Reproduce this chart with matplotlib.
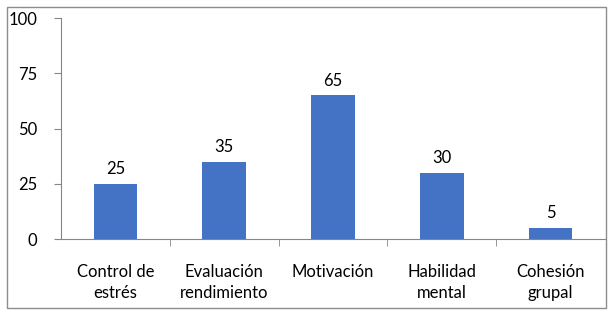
import matplotlib.pyplot as plt
from matplotlib.patches import Rectangle

categories = ["Control de\nestrés", "Evaluación\nrendimiento", "Motivación", "Habilidad\nmental", "Cohesión\ngrupal"]
values = [25, 35, 65, 30, 5]
yticks = [0, 25, 50, 75, 100]

plt.rcParams['font.family'] = ['Lato', 'DejaVu Sans']

fig = plt.figure(figsize=(6.14, 3.18), dpi=100)
fig.patches.append(Rectangle((7 / 614, 10 / 318), 599 / 614, 301 / 318, transform=fig.transFigure,
                             fill=False, edgecolor='#8c8c8c', linewidth=1.0))

ax = fig.add_axes([61 / 614, 1 - 239 / 318, 544 / 614, 221 / 318])
x = list(range(len(categories)))
bars = ax.bar(x, values, width=0.4, color='#4472C4')
for xi, v in zip(x, values):
    ax.text(xi, v + 3, str(v), ha='center', va='bottom', fontsize=12)

ax.set_xlim(-0.5, len(categories) - 0.5)
ax.set_ylim(0, 100)
ax.set_yticks(yticks)
ax.tick_params(axis='y', labelsize=12, length=5, color='#868686', pad=12)
ax.set_xticks(x)
ax.set_xticklabels(categories, fontsize=12, linespacing=1.4)
ax.tick_params(axis='x', length=0, pad=18)
ax.set_xticks([i + 0.5 for i in x[:-1]], minor=True)
ax.tick_params(axis='x', which='minor', length=5, color='#868686')
for s in ['top', 'right']:
    ax.spines[s].set_visible(False)
ax.spines['left'].set_color('#868686')
ax.spines['bottom'].set_color('#868686')

fig.savefig('out.png', dpi=100)
